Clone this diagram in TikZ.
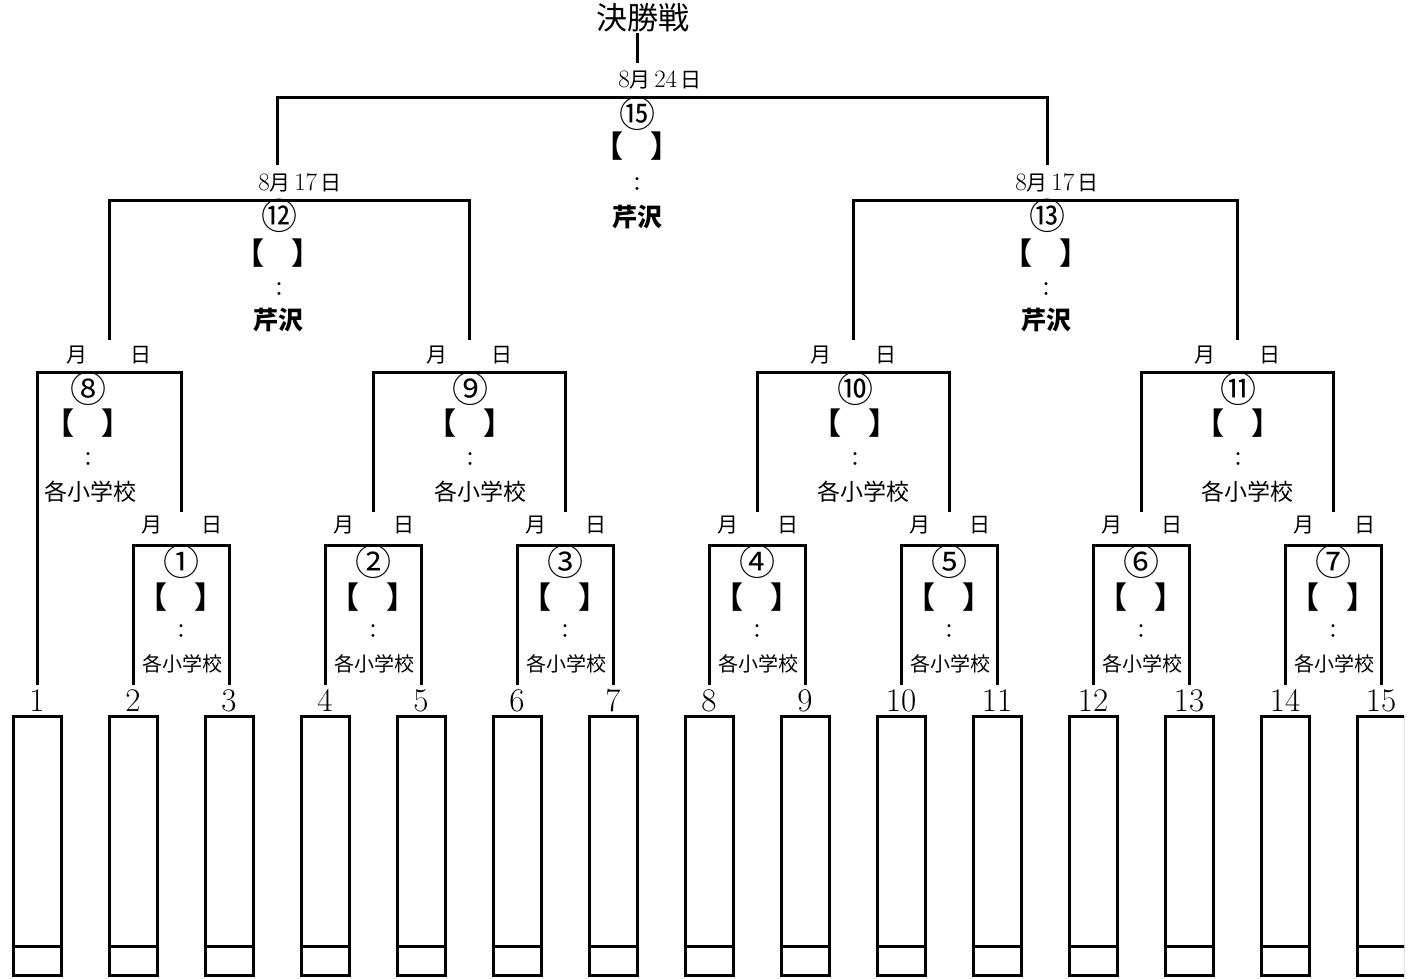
\documentclass[tikz,border=0pt]{standalone}
\usepackage{fontspec}
\usepackage{tikz}
\usetikzlibrary{positioning}
\newfontfamily\jp{Noto Sans CJK JP}
\newcommand{\fs}[1]{\fontsize{#1}{#1}\selectfont}
\newcommand{\maru}[1]{\char\numexpr"245F+#1\relax}
\newcommand{\dg}[1]{{\normalfont\fs{25}#1}}
\newcommand{\waku}{【\hspace{27pt}】}
\tikzset{
  sen/.style={line width=3pt},
  waku/.style={draw,line width=3pt,rectangle,minimum width=48pt,minimum height=259pt,inner sep=0pt,outer sep=0pt,anchor=north},
  bango/.style={inner sep=0pt,outer sep=4pt,anchor=base,font=\fs{33}},
  kessho/.style={inner sep=0pt,font=\jp\fs{31}},
  hizuke/.style={inner sep=0pt,font=\jp\fs{21}},
  maruji/.style={inner sep=0pt,font=\jp\fs{36}},
  kakko/.style={inner sep=0pt,font=\jp\bfseries\fs{30}},
  colon/.style={inner sep=0pt,font=\jp\fs{20}},
  basho/.style={inner sep=0pt,font=\jp\bfseries\fs{25}},
  gakko/.style={inner sep=0pt,font=\jp\fs{23}},
  gakkosm/.style={inner sep=0pt,font=\jp\fs{20}},
}

\begin{document}
\begin{tikzpicture}[x=1pt,y=-1pt]
    \useasboundingbox (0,0) rectangle (1408,978);

    % entry boxes
    \begin{scope}
    \clip (0,0) rectangle (1404,978);
    \foreach \i in {1,...,15} {
        \pgfmathtruncatemacro{\bx}{37+96*(\i-1)}
        \node[waku] (b\i) at (\bx,716) {};
        \draw[sen] ([yshift=29pt]b\i.south west) -- ([yshift=29pt]b\i.south east);
    }
    \end{scope}
    \foreach \i in {1,...,15} {
        \pgfmathtruncatemacro{\bx}{37+96*(\i-1)}
        \node[bango] (n\i) at (\bx,711) {\i};
    }

    % first round
    \foreach \k/\a/\b in {1/2/3,2/4/5,3/6/7,4/8/9,5/10/11,6/12/13,7/14/15} {
        \pgfmathtruncatemacro{\cx}{85+96*(\a-1)}
        \coordinate (m\k) at (\cx,545);
        \coordinate (t\k) at (\cx,512);
        \node[hizuke] (d\k) at (\cx+1,525) {月\hspace{40pt}日};
        \node[maruji] (c\k) at (\cx,562) {\maru{\k}};
        \node[kakko] (k\k) at (\cx,597) {\waku};
        \node[colon] (v\k) at (\cx,632) {：};
        \node[gakkosm] (s\k) at (\cx+1,664) {各小学校};
        \draw[sen] (n\a.north) |- (m\k) -| (n\b.north);
    }

    % second round
    \foreach \k/\l/\r/\cx/\lx/\sx in {8/n1.north/t1/109/88/90,9/t2/t3/469/470/480,10/t4/t5/853/855/863,11/t6/t7/1237/1238/1247} {
        \coordinate (m\k) at (\cx,372);
        \coordinate (t\k) at (\cx,340);
        \node[hizuke] (d\k) at (\cx,355) {月\hspace{44pt}日};
        \node[maruji] (c\k) at (\lx,389) {\maru{\k}};
        \node[kakko] (k\k) at (\lx,423) {\waku};
        \node[colon] (v\k) at (\lx,460) {：};
        \node[gakko] (s\k) at (\sx,492) {各小学校};
        \draw[sen] (\l) |- (m\k) -| (\r);
    }

    % semifinals
    \coordinate (m12) at (289,200);
    \coordinate (t12) at (277,165);
    \node[hizuke] (d12) at (300,183) {\dg{8}月\,\dg{17}\,日};
    \node[maruji] (c12) at (279,216) {\maru{12}};
    \node[kakko] (k12) at (278,253) {\waku};
    \node[colon] (v12) at (279,290) {：};
    \node[basho] (p12) at (278,320) {芹沢};
    \draw[sen] (t8) |- (m12) -| (t9);

    \coordinate (m13) at (1045,200);
    \coordinate (t13) at (1047,165);
    \node[hizuke] (d13) at (1057,183) {\dg{8}月\,\dg{17}\,日};
    \node[maruji] (c13) at (1047,216) {\maru{13}};
    \node[kakko] (k13) at (1046,253) {\waku};
    \node[colon] (v13) at (1046,290) {：};
    \node[basho] (p13) at (1046,320) {芹沢};
    \draw[sen] (t10) |- (m13) -| (t11);

    % final
    \node[kessho] (final) at (643,18) {決勝戦};
    \coordinate (m15) at (637,97);
    \coordinate (s15) at (637,63);
    \node[hizuke] (d15) at (660,80) {\dg{8}月\,\dg{24}\,日};
    \node[maruji] (c15) at (637,114) {\maru{15}};
    \node[kakko] (k15) at (637,146) {\waku};
    \node[colon] (v15) at (637,185) {：};
    \node[basho] (p15) at (637,217) {芹沢};
    \draw[sen] (s15) -- (s15 |- final.south);
    \draw[sen] (t12) |- (m15) -| (t13);
\end{tikzpicture}
\end{document}
